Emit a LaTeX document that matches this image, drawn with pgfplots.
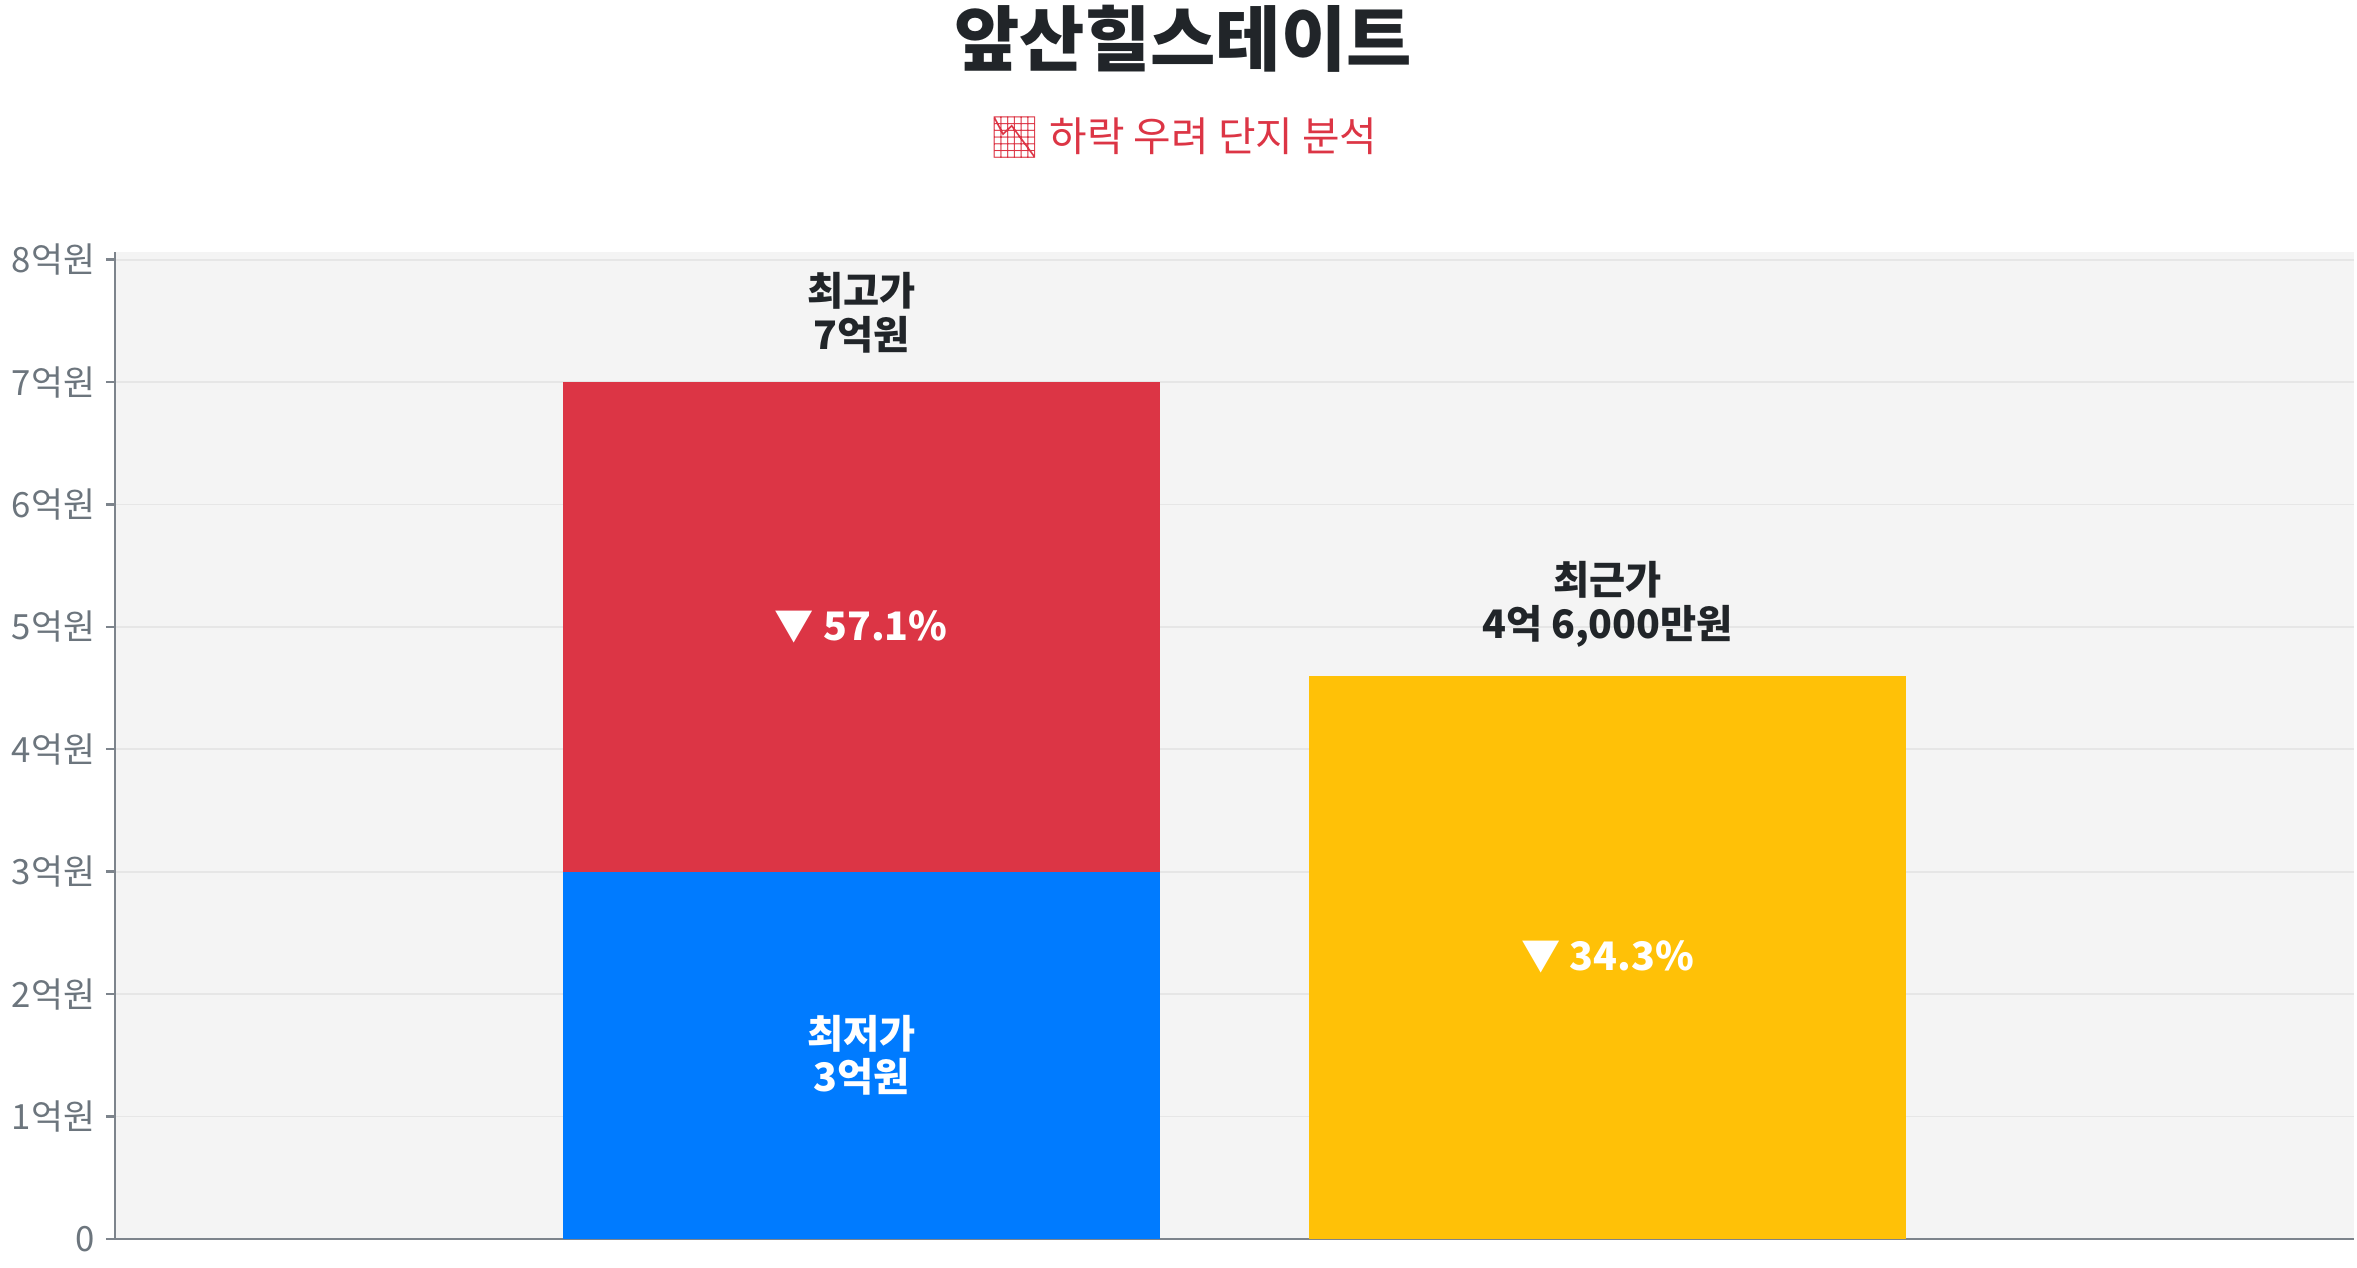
\documentclass[border=0pt]{standalone}
\usepackage{fontspec}
\setmainfont{Noto Sans CJK KR}
\newfontfamily\emoji{Noto Emoji}
\usepackage{pgfplots}
\pgfplotsset{compat=1.18}

\definecolor{titledark}{HTML}{212529}
\definecolor{subred}{HTML}{DC3545}
\definecolor{barred}{HTML}{DC3545}
\definecolor{barblue}{HTML}{007BFF}
\definecolor{baryellow}{HTML}{FFC107}
\definecolor{bggray}{HTML}{F4F4F4}
\definecolor{gridgray}{HTML}{E6E6E6}
\definecolor{axisgray}{HTML}{7D848C}
\definecolor{tickgray}{HTML}{6C757D}

\begin{document}
\begin{tikzpicture}
\path[use as bounding box] (-38pt,-9.5pt) rectangle (742pt,410pt);
\begin{axis}[
    at={(0,0)}, anchor=south west,
    scale only axis,
    width=741pt, height=326.5pt,
    xmin=0, xmax=3,
    ymin=0, ymax=8.06,
    xtick=\empty,
    ytick={0,1,2,3,4,5,6,7,8},
    yticklabels={0,1억원,2억원,3억원,4억원,5억원,6억원,7억원,8억원},
    yticklabel style={font=\fontsize{11.5}{13}\selectfont, text=tickgray},
    axis lines*=left,
    axis line style={draw=axisgray, line width=0.8pt, -},
    tick style={draw=axisgray, line width=0.8pt},
    tick align=outside,
    major tick length=3pt,
    ymajorgrids=true,
    grid style={draw=gridgray, line width=0.6pt},
    axis background/.style={fill=bggray},
    ybar, bar width=0.8, bar shift=0pt,
    clip=false,
]

% highest price bar, lowest price drawn over its base
\addplot[fill=barred, draw=none] coordinates {(1,7)};
\addplot[fill=barblue, draw=none] coordinates {(1,3)};
% recent price
\addplot[fill=baryellow, draw=none] coordinates {(2,4.6)};

\node[anchor=south, align=center, text=titledark,
      font=\bfseries\fontsize{13}{14.5}\selectfont]
    at (axis cs:1,7) [yshift=6pt] {최고가\\7억원};
\node[anchor=south, align=center, text=titledark,
      font=\bfseries\fontsize{13}{14.5}\selectfont]
    at (axis cs:2,4.6) [yshift=6pt] {최근가\\4억 6,000만원};
\node[align=center, text=white, font=\bfseries\fontsize{13}{14.5}\selectfont]
    at (axis cs:1,1.5) {최저가\\3억원};
\node[text=white, font=\bfseries\fontsize{13}{14.5}\selectfont]
    at (axis cs:1,5) {▼ 57.1\%};
\node[text=white, font=\bfseries\fontsize{13}{14.5}\selectfont]
    at (axis cs:2,2.3) {▼ 34.3\%};
\end{axis}

\node[text=titledark, font=\bfseries\fontsize{23.5}{27}\selectfont]
    at (353.5pt,397pt) {앞산힐스테이트};
\node[text=subred, font=\fontsize{13.5}{15}\selectfont]
    at (353.5pt,364.5pt) {{\emoji 📉} 하락 우려 단지 분석};
\end{tikzpicture}
\end{document}
